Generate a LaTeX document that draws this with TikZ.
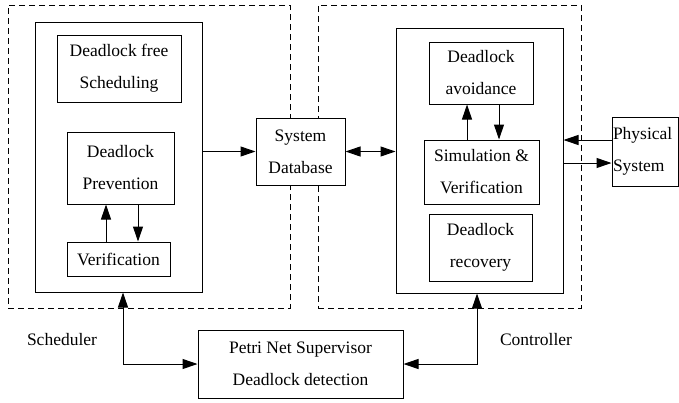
\documentclass[tikz,border=0pt]{standalone}
\usepackage{fontspec}
\setmainfont{Liberation Serif}
\usetikzlibrary{arrows.meta, positioning}

\begin{document}
\begin{tikzpicture}[
    x=1pt, y=-1pt,
    line width=1pt,
    font=\fontsize{17.5}{32}\selectfont,
    box/.style={draw, align=center, inner sep=0pt},
    group/.style={draw, dashed, dash pattern=on 6pt off 4pt, inner sep=0pt},
    arr/.style={-{Triangle[length=15pt, width=10pt]}},
    dbl/.style={{Triangle[length=15pt, width=10pt]}-{Triangle[length=15pt, width=10pt]}}
]
\useasboundingbox (0,0) rectangle (679,402);

% dashed groups
\node[group, minimum width=282pt, minimum height=303pt] (schedgrp) at (149,156.5) {};
\node[group, minimum width=263pt, minimum height=303pt] (ctrlgrp) at (449.5,156.5) {};

% scheduler side
\node[box, minimum width=167pt, minimum height=270pt] (sched) at (118.5,157) {};
\node[box, minimum width=124pt, minimum height=67pt] (free) at (119,68.5) {Deadlock free\\Scheduling};
\node[box, minimum width=107pt, minimum height=72pt] (prev) at (120.5,168) {Deadlock\\Prevention};
\node[box, minimum width=103pt, minimum height=34pt] (verif) at (118.5,259) {Verification};

% database
\node[box, minimum width=89pt, minimum height=67pt, fill=white] (db) at (300.5,151.5) {System\\Database};

% controller side
\node[box, minimum width=167pt, minimum height=265pt] (ctrl) at (479.5,160.5) {};
\node[box, minimum width=104pt, minimum height=62pt] (avoid) at (481,73) {Deadlock\\avoidance};
\node[box, minimum width=115pt, minimum height=64pt] (sim) at (481.5,172) {Simulation \&\\Verification};
\node[box, minimum width=103pt, minimum height=67pt] (recov) at (480.5,247.5) {Deadlock\\recovery};

\node[box, align=left, minimum width=66pt, minimum height=69pt, text width=64pt, inner xsep=1pt] (phys) at (645,151.5) {Physical\\System};

% supervisor
\node[box, minimum width=205pt, minimum height=68pt] (petri) at (300.5,364) {Petri Net Supervisor\\Deadlock detection};

\node (schedlbl) at (62,340) {Scheduler};
\node (ctrllbl) at (536,340) {Controller};

% connectors
\draw[arr] ([xshift=-14.5pt]prev.south |- verif.north) -- ([xshift=-14.5pt]prev.south);
\draw[arr] ([xshift=17.5pt]prev.south) -- ([xshift=17.5pt]prev.south |- verif.north);
\draw[arr] (sched.east |- db.west) -- (db.west);
\draw[dbl] (db.east) -- (db.east -| ctrl.west);
\draw[arr] ([xshift=-14.5pt]sim.north) -- ([xshift=-14.5pt]sim.north |- avoid.south);
\draw[arr] ([xshift=18pt]avoid.south) -- ([xshift=18pt]avoid.south |- sim.north);
\draw[arr] ([yshift=11.5pt]phys.west) -- ([yshift=11.5pt]phys.west -| ctrl.east);
\draw[arr] ([yshift=-11.5pt]phys.west -| ctrl.east) -- ([yshift=-11.5pt]phys.west);
\draw[dbl] (petri.west) -| ([xshift=4.5pt]sched.south);
\draw[dbl] (petri.east) -| ([xshift=-2.5pt]ctrl.south);

\end{tikzpicture}
\end{document}
